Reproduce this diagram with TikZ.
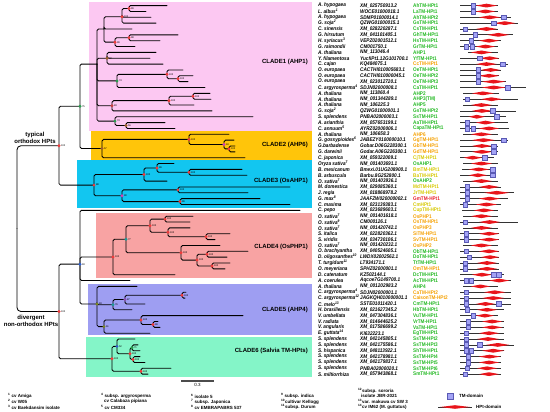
\documentclass[tikz,border=0pt]{standalone}
\usepackage{fontspec}
\setmainfont{Liberation Sans}
\newfontfamily\narrowsf[FakeStretch=0.88]{Liberation Sans}
\definecolor{pinkbg}{HTML}{FCC8F2}
\definecolor{orangebg}{HTML}{FFC50A}
\definecolor{cyanbg}{HTML}{12C6F0}
\definecolor{salmonbg}{HTML}{F8A3A3}
\definecolor{purplebg}{HTML}{9E9EF2}
\definecolor{greenbg}{HTML}{84F5C8}
\definecolor{tgreen}{HTML}{22B822}
\definecolor{torange}{HTML}{F5A000}
\definecolor{tyellow}{HTML}{D6C800}
\definecolor{tred}{HTML}{E8202A}
\definecolor{hptred}{HTML}{E8151B}
\definecolor{tmfill}{HTML}{A3A3F5}
\definecolor{tmedge}{HTML}{5A5AB4}
\definecolor{cR}{HTML}{F23B3B}
\definecolor{cM}{HTML}{D63FB5}
\definecolor{cG}{HTML}{2A9D4E}
\definecolor{cT}{HTML}{1E9A9A}
\definecolor{cB}{HTML}{2F5FD0}
\definecolor{cO}{HTML}{7A8520}
\definecolor{cP}{HTML}{8E4FB8}
\definecolor{cBr}{HTML}{A0602A}
\definecolor{cRb}{HTML}{C84040}
\def\spx{318}\def\acx{360}\def\prx{413}\def\dx{460}\def\ds{1.02}\def\bxr{312}
\tikzset{
  br/.style={line width=0.85pt, rounded corners=1.5pt, line cap=round},
  spc/.style={anchor=west, inner sep=0pt, font=\fontsize{5.3}{6}\narrowsf\bfseries\itshape},
  prt/.style={anchor=west, inner sep=0pt, font=\fontsize{5.3}{6}\narrowsf\bfseries},
  bsl/.style={anchor=west, inner sep=0pt, font=\fontsize{2.5}{3}\selectfont},
  tmsq/.style={draw=tmedge, fill=tmfill, line width=0.35pt, minimum size=4.6pt, inner sep=0pt},
  domln/.style={line width=0.7pt, draw=black!80},
  clab/.style={anchor=east, inner sep=0pt, font=\fontsize{6}{7}\selectfont\bfseries},
  grp/.style={align=center, inner sep=0pt, font=\fontsize{6}{7}\selectfont\bfseries},
  fn/.style={anchor=west, inner sep=0pt, font=\fontsize{4.5}{5}\selectfont\bfseries},
}
\newcommand{\ed}[4]{\draw[br] (#1,{ry(#2)}) |- (#3,{ry(#4)});}
\newcommand{\bs}[5]{\fill[#5] (#2,{ry(#3)}) circle (1.6pt); \node[bsl] (#1) at ({#2+1.9},{ry(#3)}) {#4};}
\newcommand{\lr}[5]{%
  \node[spc] (sp#1) at (\spx,{ry(#1)}) {#2};
  \node[spc] (ac#1) at (\acx,{ry(#1)}) {#3};
  \node[prt, text=#5] (pr#1) at (\prx,{ry(#1)}) {#4};}
\newcommand{\dom}[5]{%
  \draw[domln] ({\dx+\ds*#2},{ry(#1)}) -- ({\dx+\ds*#3},{ry(#1)});
  \fill[hptred] ({\dx+\ds*#4-1.5},{ry(#1)}) -- ({\dx+\ds*(#4+#5)/2},{ry(#1)-1.9}) -- ({\dx+\ds*#5+1.5},{ry(#1)}) -- ({\dx+\ds*(#4+#5)/2},{ry(#1)+1.9}) -- cycle;}
\newcommand{\tm}[2]{\node[tmsq] (tm#1x#2) at ({\dx+\ds*#2},{ry(#1)}) {};}
\newcommand{\sps}[1]{\textsuperscript{#1}}
\newcommand{\cbox}[4]{\fill[#1] (#2,{ry(#3)}) rectangle (\bxr,{ry(#4)});}
\begin{document}
\begin{tikzpicture}[x=1pt,y=-1pt, declare function={ry(\r)=5.6+5.85*(\r-1);}]
\useasboundingbox (0,0) rectangle (550,412);
% clade boxes
\cbox{pinkbg}{89}{0.37}{22.45}
\cbox{orangebg}{91}{22.45}{27.35}
\cbox{cyanbg}{77}{27.35}{35.6}
\cbox{salmonbg}{96}{36.4}{47.6}
\cbox{purplebg}{88}{48.6}{57.35}
\cbox{greenbg}{86}{57.6}{64.5}
\node[clab] (c1) at (308,{ry(10.55)}) {CLADE1 (AHP1)};
\node[clab] (c2) at (308,{ry(24.8)}) {CLADE2 (AHP6)};
\node[clab] (c3) at (308,{ry(31.05)}) {CLADE3 (OsAHP1)};
\node[clab] (c4) at (308,{ry(42.26)}) {CLADE4 (OsPHP1)};
\node[clab] (c5) at (308,{ry(52.95)}) {CLADE5 (AHP4)};
\node[clab] (c6) at (308,{ry(60)}) {CLADE6 (Salvia TM-HPts)};
\node[grp] (g1) at (35,{ry(23.6)}) {typical\\orthodox HPts};
\node[grp] (g2) at (31,{ry(54.9)}) {divergent\\non-orthodox HPts};
% tree
\draw[br, rounded corners=4pt] (17,{ry(39.1)}) |- (59,{ry(24.95)});
\draw[br, rounded corners=4pt] (17,{ry(39.1)}) |- (59,{ry(53.3)});
\ed{59}{24.95}{80}{18.2}
\ed{59}{24.95}{94}{31.69}
\ed{80}{18.2}{97}{11}
\ed{80}{18.2}{102}{25.44}
\ed{97}{11}{104}{5}
\ed{97}{11}{107}{10}
\ed{97}{11}{117}{13.875}
\ed{97}{11}{112}{18.125}
\ed{97}{11}{115}{20.75}
\ed{104}{5}{122}{2.9}
\ed{104}{5}{132}{5}
\ed{104}{5}{115}{7.25}
\ed{122}{2.9}{129}{1.5}
\ed{122}{2.9}{151}{3}
\ed{122}{2.9}{156}{4}
\ed{129}{1.5}{167}{1}
\ed{129}{1.5}{146}{2}
\ed{115}{7.25}{129}{6.5}
\ed{115}{7.25}{135}{8}
\ed{129}{6.5}{178}{6}
\ed{129}{6.5}{160}{7}
\ed{107}{10}{156}{9}
\ed{107}{10}{150}{10}
\ed{107}{10}{163}{11}
\ed{117}{13.875}{167}{12.75}
\ed{117}{13.875}{205}{15}
\ed{167}{12.75}{183}{12}
\ed{167}{12.75}{178}{13.5}
\ed{178}{13.5}{193}{13}
\ed{178}{13.5}{188}{14}
\ed{112}{18.125}{169}{17.25}
\ed{112}{18.125}{212}{19}
\ed{169}{17.25}{193}{16.5}
\ed{169}{17.25}{194}{18}
\ed{193}{16.5}{210}{16}
\ed{193}{16.5}{211}{17}
\ed{115}{20.75}{253}{20}
\ed{115}{20.75}{126}{21.5}
\ed{126}{21.5}{165}{21}
\ed{126}{21.5}{175}{22}
\ed{102}{25.44}{189}{23.875}
\ed{102}{25.44}{245}{27}
\ed{189}{23.875}{229}{23}
\ed{189}{23.875}{224}{24.75}
\ed{224}{24.75}{234}{24}
\ed{224}{24.75}{229}{25.5}
\ed{229}{25.5}{235}{25}
\ed{229}{25.5}{235}{26}
\ed{94}{31.69}{144}{29.875}
\ed{94}{31.69}{122}{33.5}
\ed{144}{29.875}{157}{28.75}
\ed{144}{29.875}{167}{31}
\ed{157}{28.75}{174}{28}
\ed{157}{28.75}{189}{29.5}
\ed{189}{29.5}{242}{29}
\ed{189}{29.5}{247}{30}
\ed{122}{33.5}{178}{32.5}
\ed{122}{33.5}{180}{34.5}
\ed{178}{32.5}{290}{32}
\ed{178}{32.5}{248}{33}
\ed{180}{34.5}{260}{34}
\ed{180}{34.5}{290}{35}
\ed{59}{53.3}{80}{45.2}
\ed{59}{53.3}{112}{61.375}
\ed{80}{45.2}{300}{36}
\ed{80}{45.2}{113}{43.97}
\ed{80}{45.2}{130}{48}
\ed{80}{45.2}{97}{52}
\ed{113}{43.97}{126}{40.94}
\ed{113}{43.97}{175}{47}
\ed{126}{40.94}{150}{38.625}
\ed{126}{40.94}{181}{43.25}
\ed{150}{38.625}{165}{37.5}
\ed{150}{38.625}{168}{39.75}
\ed{165}{37.5}{193}{37}
\ed{165}{37.5}{190}{38}
\ed{168}{39.75}{190}{39}
\ed{168}{39.75}{206}{40.5}
\ed{206}{40.5}{230}{40}
\ed{206}{40.5}{215}{41}
\ed{181}{43.25}{220}{42}
\ed{181}{43.25}{197}{44.5}
\ed{197}{44.5}{207}{43.5}
\ed{197}{44.5}{212}{45.5}
\ed{207}{43.5}{248}{43}
\ed{207}{43.5}{227}{44}
\ed{212}{45.5}{230}{45}
\ed{212}{45.5}{225}{46}
\ed{97}{52}{137}{49}
\ed{97}{52}{113}{52.125}
\ed{97}{52}{104}{55.875}
\ed{113}{52.125}{125}{51.25}
\ed{113}{52.125}{132}{53}
\ed{125}{51.25}{182}{50.5}
\ed{125}{51.25}{145}{52}
\ed{182}{50.5}{186}{50}
\ed{182}{50.5}{185}{51}
\ed{104}{55.875}{141}{54.75}
\ed{104}{55.875}{150}{57}
\ed{141}{54.75}{243}{54}
\ed{141}{54.75}{153}{55.5}
\ed{153}{55.5}{158}{55}
\ed{153}{55.5}{160}{56}
\ed{112}{61.375}{117}{59.25}
\ed{112}{61.375}{141}{63.5}
\ed{117}{59.25}{135}{58}
\ed{117}{59.25}{130}{60.5}
\ed{130}{60.5}{132}{59.5}
\ed{130}{60.5}{133}{61.5}
\ed{132}{59.5}{138}{59}
\ed{132}{59.5}{140}{60}
\ed{133}{61.5}{140}{61}
\ed{133}{61.5}{145}{62}
\ed{141}{63.5}{171}{63}
\ed{141}{63.5}{148}{64}
% bootstrap
\bs{b1}{129}{1.5}{99}{cR}
\bs{b2}{122}{2.9}{100}{cR}
\bs{b3}{129}{6.5}{98}{cR}
\bs{b4}{115}{7.25}{99}{cR}
\bs{b5}{107}{10}{82}{cBr}
\bs{b6}{167}{12.75}{100}{cR}
\bs{b7}{178}{13.5}{100}{cR}
\bs{b8}{117}{13.875}{74}{cG}
\bs{b9}{193}{16.5}{100}{cR}
\bs{b10}{169}{17.25}{100}{cR}
\bs{b11}{112}{18.125}{83}{cRb}
\bs{b12}{115}{20.75}{74}{cG}
\bs{b13}{126}{21.5}{56}{cBr}
\bs{b14}{102}{25.44}{57}{cBr}
\bs{b15}{189}{23.875}{100}{cR}
\bs{b16}{224}{24.75}{94}{cM}
\bs{b17}{229}{25.5}{100}{cR}
\bs{b18}{94}{31.69}{88}{cR}
\bs{b19}{144}{29.875}{100}{cR}
\bs{b20}{157}{28.75}{99}{cR}
\bs{b21}{189}{29.5}{100}{cR}
\bs{b22}{122}{33.5}{90}{cM}
\bs{b23}{178}{32.5}{100}{cR}
\bs{b24}{180}{34.5}{99}{cR}
\bs{b25}{113}{43.97}{100}{cR}
\bs{b26}{126}{40.94}{77}{cT}
\bs{b27}{150}{38.625}{100}{cR}
\bs{b28}{165}{37.5}{100}{cR}
\bs{b29}{168}{39.75}{100}{cR}
\bs{b30}{206}{40.5}{100}{cR}
\bs{b31}{181}{43.25}{100}{cR}
\bs{b32}{197}{44.5}{100}{cR}
\bs{b33}{207}{43.5}{100}{cR}
\bs{b34}{212}{45.5}{100}{cR}
\bs{b35}{80}{45.2}{93}{cB}
\bs{b36}{97}{52}{83}{cO}
\bs{b37}{113}{52.125}{76}{cT}
\bs{b38}{125}{51.25}{87}{cP}
\bs{b39}{182}{50.5}{100}{cR}
\bs{b40}{104}{55.875}{61}{cO}
\bs{b41}{141}{54.75}{100}{cR}
\bs{b42}{153}{55.5}{99}{cR}
\bs{b43}{112}{61.375}{100}{cR}
\bs{b44}{117}{59.25}{52}{cB}
\bs{b45}{130}{60.5}{100}{cR}
\bs{b46}{132}{59.5}{71}{cG}
\bs{b47}{133}{61.5}{100}{cR}
\bs{b48}{141}{63.5}{100}{cR}
\bs{b49}{59}{24.95}{100}{cR}
\bs{b50}{59}{53.3}{100}{cR}
\bs{b51}{80}{18.2}{75}{cG}
% leaf rows
\lr{1}{A. hypogaea}{XM\_025750913.2}{AhTM-HPt1}{tgreen}
\lr{2}{L. albus\sps{1}}{WOCE01000018.1}{LaTM-HPt1}{tgreen}
\lr{3}{A. hypogaea}{SDMP01000014.1}{AhTM-HPt2}{tgreen}
\lr{4}{G. soja\sps{2}}{QZWG01000015.1}{GsTM-HPt1}{tgreen}
\lr{5}{C. sinensis}{XM\_028220287.1}{CsTM-HPt1}{tgreen}
\lr{6}{G. hirsutum}{XM\_041101405.1}{GhTM-HPt1}{tgreen}
\lr{7}{H. syriacus\sps{3}}{VEPZ02001512.1}{HsTM-HPt1}{tgreen}
\lr{8}{G. raimondii}{CM001750.1}{GrTM-HPt1}{tgreen}
\lr{9}{A. thaliana}{NM\_113046.4}{AHP1}{tgreen}
\lr{10}{Y. filamentosa}{YucfiPt1.12G101700.1}{YfTM-HPt1}{tgreen}
\lr{11}{C. cajan}{KQ484075.1}{CcTM-HPt1}{torange}
\lr{12}{O. europaea}{CACTHI010005683.1}{OeTM-HPt1}{tgreen}
\lr{13}{O. europaea}{CACTHI010000045.1}{OeTM-HPt2}{tgreen}
\lr{14}{O. europaea}{XM\_023012720.1}{OeTM-HPt3}{tgreen}
\lr{15}{C. argyrosperma\sps{4}}{SDJN02000008.1}{CaTM-HPt1}{tgreen}
\lr{16}{A. thaliana}{NM\_113860.4}{AHP2}{tgreen}
\lr{17}{A. thaliana}{NM\_001344289.1}{AHP3(TM)}{tgreen}
\lr{18}{A. thaliana}{NM\_106225.3}{AHP5}{tgreen}
\lr{19}{G. soja\sps{2}}{QZWG01000001.1}{GsTM-HPt2}{tgreen}
\lr{20}{S. splendens}{PNBA02000003.1}{SsTM-HPt1}{tgreen}
\lr{21}{A. arianthia}{XM\_057653199.1}{AaTM-HPt1}{tgreen}
\lr{22}{C. annuum\sps{5}}{AYRZ02000006.1}{CapaTM-HPt1}{tgreen}
\lr{23}{A. thaliana}{NM\_106658.3}{AHP6}{torange}
\lr{24}{G. gossypioides\sps{6}}{JABEZY010000010.1}{GgTM-HPt1}{torange}
\lr{25}{G.barbadense}{Gobar.D06G228300.1}{GbTM-HPt1}{torange}
\lr{26}{G. darwinii}{Godar.A06G226300.1}{GdTM-HPt1}{torange}
\lr{27}{C. japonica}{XM\_059322009.1}{CjTM-HPt1}{tyellow}
\lr{28}{Oryza sativa\sps{7}}{NM\_001403691.1}{OsAHP1}{tgreen}
\lr{29}{B. mexicanum}{Bmexi.01UG208900.1}{BmTM-HPt1}{tyellow}
\lr{30}{B. arbuscula}{Barbu.8G252800.1}{BaTM-HPt1}{tyellow}
\lr{31}{O. sativa\sps{7}}{NM\_001403936.1}{OsAHP2}{tgreen}
\lr{32}{M. domestica}{XM\_029085360.1}{MdTM-HPt1}{tyellow}
\lr{33}{J. regia}{XM\_018868978.2}{JrTM-HPt1}{tyellow}
\lr{34}{G. max\sps{8}}{JAAFZW020000002.1}{GmTM-HPt1}{tred}
\lr{35}{C. maxima}{XM\_023139383.1}{CmHPt1}{tyellow}
\lr{36}{C. pepo}{XM\_023689603.1}{CupTM-HPt1}{tyellow}
\lr{37}{O. sativa\sps{7}}{NM\_001401618.1}{OsPHP1}{torange}
\lr{38}{O. sativa\sps{9}}{CM000126.1}{OsTM-HPt1}{torange}
\lr{39}{O. sativa\sps{7}}{NM\_001420742.1}{OsPHP3}{torange}
\lr{40}{S. italica}{XM\_022820362.1}{SiTM-HPt1}{torange}
\lr{41}{S. viridis}{XM\_034730106.1}{SvTM-HPt1}{torange}
\lr{42}{O. sativa\sps{7}}{NM\_001420232.1}{OsPHP2}{torange}
\lr{43}{O. brachyantha}{XM\_040524605.1}{ObTM-HPt1}{tgreen}
\lr{44}{D. oligosanthes\sps{10}}{LWDX02002562.1}{DoTM-HPt1}{tgreen}
\lr{45}{T. turgidum\sps{11}}{LT934171.1}{TtTM-HPt1}{tgreen}
\lr{46}{O. meyeriana}{SPHZ02000001.1}{OmTM-HPt1}{torange}
\lr{47}{D. catenatum}{KZ502144.1}{DcTM-HPt1}{tgreen}
\lr{48}{A. coerulea}{Aqcoe7G149700.1}{AcTM-HPt1}{tgreen}
\lr{49}{A. thaliana}{NM\_001202983.2}{AHP4}{tgreen}
\lr{50}{C. argyrosperma\sps{4}}{SDJN02000001.1}{CaTM-HPt2}{torange}
\lr{51}{C. argyrosperma\sps{12}}{JAGKQH010000001.1}{CaisonTM-HPt2}{torange}
\lr{52}{C. melo\sps{13}}{SSTE01011420.1}{CmTM-HPt1}{tgreen}
\lr{53}{H. brasiliensis}{XM\_021627345.2}{HbTM-HPt1}{tgreen}
\lr{54}{V. umbellata}{XM\_047304836.1}{VuTM-HPt1}{tgreen}
\lr{55}{V. radiata}{XM\_014644625.2}{VrTM-HPt1}{tgreen}
\lr{56}{V. angularis}{XM\_017586699.2}{VaTM-HPt1}{tgreen}
\lr{57}{E. guttata\sps{14}}{KI632223.1}{EgTM-HPt1}{tgreen}
\lr{58}{S. splendens}{XM\_042145805.1}{SsTM-HPt2}{tgreen}
\lr{59}{S. splendens}{XM\_042175586.1}{SsTM-HPt3}{tgreen}
\lr{60}{S. hispanica}{XM\_048113922.1}{ShTM-HPt1}{tgreen}
\lr{61}{S. splendens}{XM\_042178981.1}{SsTM-HPt4}{tgreen}
\lr{62}{S. splendens}{XM\_042179837.1}{SsTM-HPt5}{tgreen}
\lr{63}{S. splendens}{PNBA02000020.1}{SsTM-HPt6}{tgreen}
\lr{64}{S. miltiorrhiza}{XM\_057943868.1}{SmTM-HPt1}{tgreen}
% domains
\dom{1}{0}{37}{17}{35}\tm{1}{13}
\dom{2}{0}{37}{17}{33}\tm{2}{13}
\dom{3}{0}{50}{20}{38}\tm{3}{43}
\dom{4}{0}{57}{35}{53}\tm{4}{33}
\dom{5}{0}{37}{17}{35}\tm{5}{5}
\dom{6}{0}{52}{28}{47}\tm{6}{15}
\dom{7}{0}{40}{20}{37}\tm{7}{11}
\dom{8}{0}{37}{17}{33}\tm{8}{6}\tm{8}{12}
\dom{9}{8}{37}{12}{30}
\dom{10}{0}{38}{21}{37}\tm{10}{19}
\dom{11}{0}{47}{17}{35}\tm{11}{42}
\dom{12}{0}{40}{22}{38}\tm{12}{18}
\dom{13}{0}{38}{20}{37}\tm{13}{18}
\dom{14}{0}{45}{23}{43}\tm{14}{18}
\dom{15}{0}{65}{23}{43}\tm{15}{47}
\dom{16}{3}{38}{13}{32}
\dom{17}{3}{57}{22}{40}\tm{17}{7}
\dom{18}{3}{37}{12}{30}
\dom{19}{0}{55}{13}{30}\tm{19}{32}
\dom{20}{0}{45}{10}{23}\tm{20}{36}
\dom{21}{0}{47}{17}{33}\tm{21}{7}
\dom{22}{0}{48}{20}{37}\tm{22}{7}\tm{22}{13}
\dom{23}{3}{37}{12}{30}
\dom{24}{0}{47}{13}{33}\tm{24}{43}
\dom{25}{0}{37}{13}{30}\tm{25}{33}
\dom{26}{0}{37}{13}{30}\tm{26}{33}
\dom{27}{0}{33}{5}{20}\tm{27}{24}
\dom{28}{3}{37}{12}{30}
\dom{29}{2}{33}{10}{27}\tm{29}{32}
\dom{30}{0}{33}{10}{25}\tm{30}{32}
\dom{31}{3}{37}{12}{30}
\dom{32}{0}{40}{20}{37}\tm{32}{7}
\dom{33}{0}{53}{25}{47}\tm{33}{7}
\dom{34}{0}{47}{20}{38}\tm{34}{7}
\dom{35}{0}{40}{17}{35}\tm{35}{5}
\dom{36}{2}{37}{15}{32}
\dom{37}{3}{37}{12}{30}
\dom{38}{0}{57}{20}{38}\tm{38}{5}
\dom{39}{3}{37}{12}{30}
\dom{40}{0}{38}{20}{37}\tm{40}{6}
\dom{41}{0}{38}{20}{37}\tm{41}{6}
\dom{42}{3}{37}{12}{30}
\dom{43}{0}{38}{20}{37}\tm{43}{6}
\dom{44}{0}{38}{22}{37}\tm{44}{9}
\dom{45}{0}{38}{18}{35}\tm{45}{5}
\dom{46}{0}{38}{18}{35}\tm{46}{5}
\dom{47}{0}{43}{13}{30}\tm{47}{33}\tm{47}{38}
\dom{48}{0}{50}{30}{47}\tm{48}{6}\tm{48}{11}
\dom{49}{3}{37}{12}{28}
\dom{50}{0}{50}{25}{43}\tm{50}{6}
\dom{51}{0}{50}{23}{42}\tm{51}{6}
\dom{52}{0}{50}{17}{33}\tm{52}{6}\tm{52}{38}
\dom{53}{0}{43}{18}{35}\tm{53}{7}
\dom{54}{0}{37}{17}{32}\tm{54}{13}
\dom{55}{0}{43}{23}{40}\tm{55}{8}
\dom{56}{0}{43}{23}{40}\tm{56}{8}
\dom{57}{0}{43}{20}{37}\tm{57}{6}
\dom{58}{0}{43}{18}{37}\tm{58}{6}
\dom{59}{0}{53}{27}{47}\tm{59}{6}\tm{59}{19}
\dom{60}{0}{43}{23}{42}\tm{60}{6}\tm{60}{11}
\dom{61}{0}{40}{20}{38}\tm{61}{8}
\dom{62}{0}{40}{20}{37}\tm{62}{8}
\dom{63}{0}{40}{18}{35}\tm{63}{7}
\dom{64}{0}{40}{20}{37}\tm{64}{5}
% scale bar
\draw[line width=1.3pt, black!70] (181,381) coordinate (sb1) -- (214,381) coordinate (sb2);
\node[fn, anchor=north, font=\fontsize{4.5}{5}\selectfont] (sbl) at (197.5,383.5) {0.3};
% footnotes
\node[fn] (f1) at (8,396) {\sps{1} cv Amiga};
\node[fn] (f2) at (8,401.5) {\sps{2} cv W05};
\node[fn] (f3) at (8,407) {\sps{3} cv Baekdansim isolate};
\node[fn] (f4) at (101,396) {\sps{4} subsp. argyrosperma};
\node[fn] (f4b) at (104,401.5) {cv Calabaza pipiana};
\node[fn] (f5) at (101,407) {\sps{5} cv CM334};
\node[fn] (f6) at (191,396) {\sps{6} isolate 5};
\node[fn] (f7) at (191,401.5) {\sps{7} subsp. Japonica};
\node[fn] (f8) at (191,407) {\sps{8} cv EMBRAPABRS 537};
\node[fn] (f9) at (281,396) {\sps{9} subsp. indica};
\node[fn] (f10) at (281,401.5) {\sps{10}cultivar Kellogg};
\node[fn] (f11) at (281,407) {\sps{11}subsp. Durum};
\node[fn] (f12) at (358,390.5) {\sps{12}subsp. sororia};
\node[fn] (f12b) at (361,396) {isolate JBR-2021};
\node[fn] (f13) at (358,401.5) {\sps{13}var. makuwa cv SW 3};
\node[fn] (f14) at (358,407) {\sps{14}cv IM62 (M. guttatus)};
% legend
\node[tmsq, minimum size=5.5pt] (lgtm) at (450,396) {};
\node[fn] (lgtmt) at (459,396) {TM-domain};
\draw[domln] (438,407) coordinate (lgh1) -- (472,407) coordinate (lgh2);
\fill[hptred] (440,407) -- (455,405.2) -- (470,407) -- (455,408.8) -- cycle;
\node[fn] (lghpt) at (476,407) {HPt-domain};
\end{tikzpicture}
\end{document}
